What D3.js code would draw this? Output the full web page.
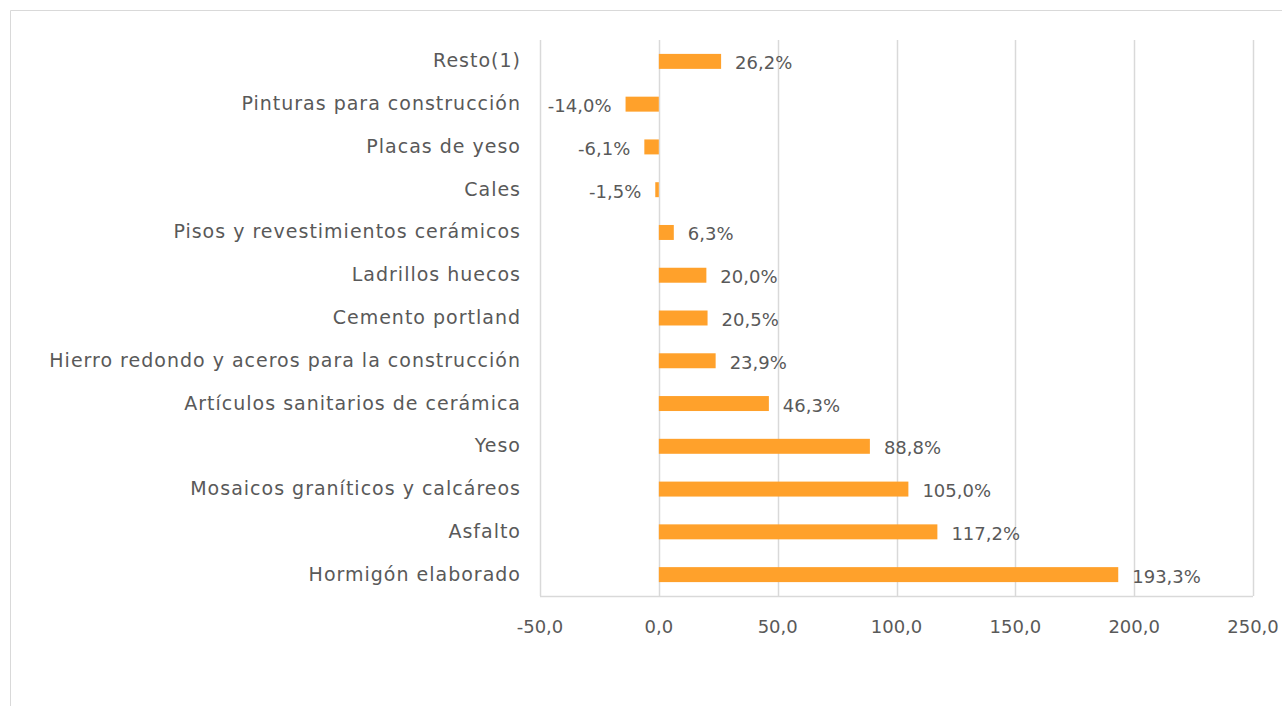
<!DOCTYPE html>
<html>
<head>
<meta charset="utf-8">
<script src="https://cdn.jsdelivr.net/npm/d3@7"></script>
<style>
  body { margin: 0; background: #fff; }
  text { font-family: "DejaVu Sans", sans-serif; fill: #595959; }
</style>
</head>
<body>
<script>
var categories = ["Resto(1)", "Pinturas para construcción", "Placas de yeso", "Cales",
  "Pisos y revestimientos cerámicos", "Ladrillos huecos", "Cemento portland",
  "Hierro redondo y aceros para la construcción", "Artículos sanitarios de cerámica",
  "Yeso", "Mosaicos graníticos y calcáreos", "Asfalto", "Hormigón elaborado"];
var values = [26.2, -14.0, -6.1, -1.5, 6.3, 20.0, 20.5, 23.9, 46.3, 88.8, 105.0, 117.2, 193.3];
var ticks = [-50, 0, 50, 100, 150, 200, 250];

var width = 1282, height = 706;
var barColor = "#FFA12B";
var gridColor = "#d9d9d9";

// excel-like number: comma decimal, plain hyphen minus
var fmt = d => d3.format(".1f")(d).replace(".", ",").replace("\u2212", "-");

var svg = d3.select("body").append("svg")
    .attr("width", width)
    .attr("height", height);

// outer chart frame (only top and left visible)
svg.append("line").attr("x1", 10.5).attr("x2", width).attr("y1", 10.5).attr("y2", 10.5)
    .attr("stroke", gridColor);
svg.append("line").attr("x1", 10.5).attr("x2", 10.5).attr("y1", 10.5).attr("y2", height)
    .attr("stroke", gridColor);

var x = d3.scaleLinear().domain([-50, 250]).range([540, 1253]);
var y = d3.scaleBand().domain(categories).range([40, 596]).paddingInner(0.65).paddingOuter(0.325);

// gridlines
svg.selectAll(".grid").data(ticks).enter().append("line")
    .attr("x1", d => Math.round(x(d)) + 0.5)
    .attr("x2", d => Math.round(x(d)) + 0.5)
    .attr("y1", 40).attr("y2", 596)
    .attr("stroke", gridColor)
    .attr("stroke-width", 1.5);

svg.append("line")
    .attr("x1", x(-50)).attr("x2", x(250))
    .attr("y1", 596.5).attr("y2", 596.5)
    .attr("stroke", gridColor)
    .attr("stroke-width", 1.5);

// bars
svg.selectAll(".bar").data(values).enter().append("rect")
    .attr("x", d => x(Math.min(0, d)))
    .attr("y", (d, i) => y(categories[i]))
    .attr("width", d => Math.abs(x(d) - x(0)))
    .attr("height", y.bandwidth())
    .attr("fill", barColor);

// value labels
svg.selectAll(".val").data(values).enter().append("text")
    .attr("x", d => d < 0 ? x(d) - 14 : x(d) + 14)
    .attr("y", (d, i) => y(categories[i]) + y.bandwidth() / 2 + 8)
    .attr("text-anchor", d => d < 0 ? "end" : "start")
    .style("font-size", "18px")
    .text(d => fmt(d) + "%");

// category labels
svg.selectAll(".cat").data(categories).enter().append("text")
    .attr("x", 521)
    .attr("y", d => y(d) + y.bandwidth() / 2 + 6)
    .attr("text-anchor", "end")
    .style("font-size", "19px")
    .style("letter-spacing", "1px")
    .text(d => d);

// x tick labels
svg.selectAll(".tick").data(ticks).enter().append("text")
    .attr("x", d => x(d))
    .attr("y", 633)
    .attr("text-anchor", "middle")
    .style("font-size", "18px")
    .text(d => fmt(d));
</script>
</body>
</html>
